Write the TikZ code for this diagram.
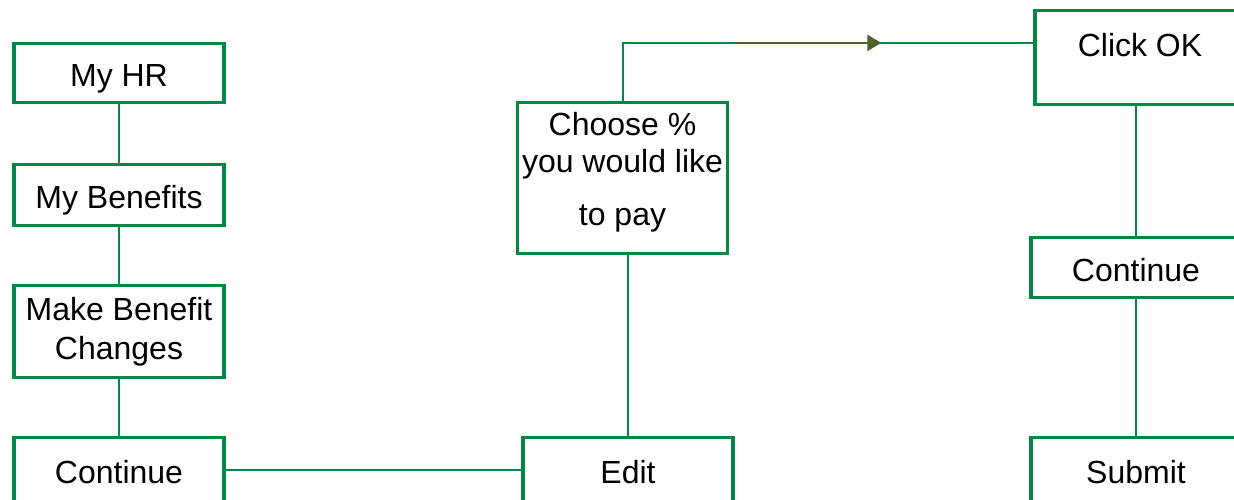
\documentclass[tikz,border=0pt]{standalone}
\usepackage{fontspec}
\setmainfont{Liberation Sans}
\usetikzlibrary{arrows.meta,calc}
\definecolor{hrgreen}{RGB}{0,136,68}
\definecolor{lnkgreen}{RGB}{0,140,70}
\definecolor{arrolive}{RGB}{79,98,40}
\begin{document}
\begin{tikzpicture}[x=0.5pt, y=-0.5pt, every node/.style={font=\fontsize{16pt}{19.5pt}\selectfont}]
  \tikzstyle{box} = [draw=hrgreen, line width=1.7pt, minimum width=105pt, align=center, inner sep=2pt]
  \tikzstyle{onel} = [text height=14pt, text depth=0.5pt]
  \tikzstyle{link} = [draw=lnkgreen, line width=1pt]
  \useasboundingbox (0,0) rectangle (1234,499);
  \clip (0,0) rectangle (1234,499);
  \node[box, onel, minimum height=29.5pt] (myhr) at (119, 73) {My HR};
  \node[box, onel, minimum height=30.5pt] (benefits) at (119, 195) {My Benefits};
  \node[box, minimum height=46pt] (changes) at (119, 331.5) {Make Benefit\\Changes};
  \node[box, onel, minimum height=32.5pt] (cont1) at (119, 470) {Continue};
  \node[box, onel, minimum height=32.5pt] (edit) at (628, 470) {Edit};
  \node[box, minimum height=75.5pt] (choose) at (622.5, 178) {Choose \%\\[-1pt]you would like\\[7pt]to pay\rule[-9pt]{0pt}{9pt}};
  \node[box, minimum height=47pt] (click) at (1140, 57.5) {\rule[-13pt]{0pt}{13pt}Click OK};
  \node[box, onel, minimum height=30pt] (cont2) at (1136, 267.5) {Continue};
  \node[box, onel, minimum height=32.5pt] (submit) at (1136, 470) {Submit};
  \coordinate (clickin) at ($(click.north west)!0.35!(click.south west)$);
  \coordinate (cor) at (choose.north |- clickin);
  \draw[link] (myhr) -- (benefits);
  \draw[link] (benefits) -- (changes);
  \draw[link] (changes) -- (cont1);
  \draw[link] (cont1) -- (edit);
  \draw[link] (edit.north) -- (edit.north |- choose.south);
  \draw[link] (choose.north) |- (clickin);
  \draw[arrolive, line width=1.2pt, -{Triangle[length=7pt, width=8pt]}] ($(cor)!0.275!(clickin)$) -- ($(cor)!0.63!(clickin)$);
  \draw[link] (cont2.north |- click.south) -- (cont2.north);
  \draw[link] (cont2) -- (submit);
\end{tikzpicture}
\end{document}
